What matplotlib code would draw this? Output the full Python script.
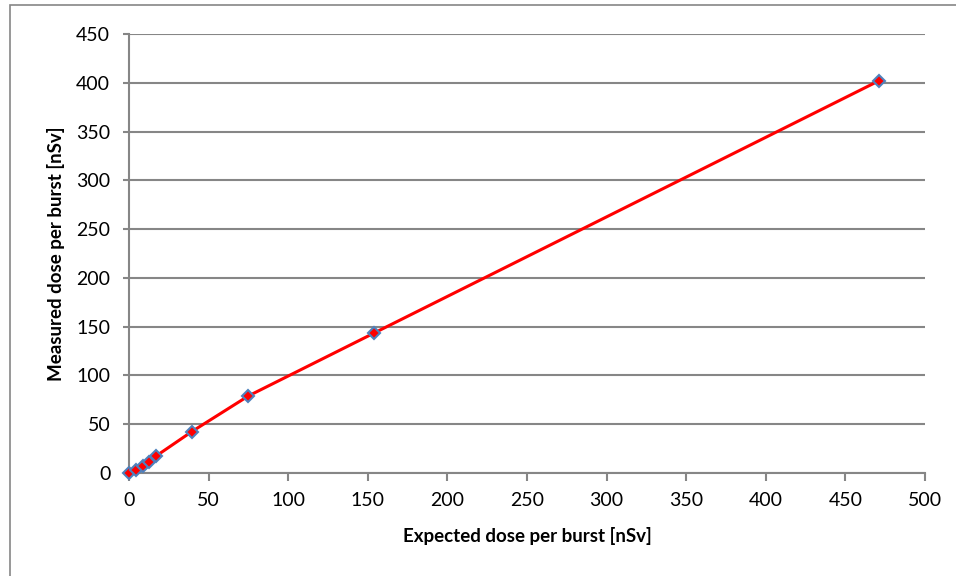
import matplotlib.pyplot as plt
from matplotlib.patches import Rectangle

# Expected vs measured dose per burst [nSv]
expected = [0, 4.4, 8.6, 12.7, 17, 39.5, 75, 154, 471]
measured = [0, 3, 7, 11.6, 17.4, 42.5, 79, 143.5, 402]

x_ticks = list(range(0, 501, 50))
y_ticks = list(range(0, 451, 50))

plt.rcParams["font.family"] = ["Lato", "DejaVu Sans"]

fig = plt.figure(figsize=(9.56, 5.76), dpi=100)
ax = fig.add_axes([129 / 956, 1 - 473 / 576, (925 - 129) / 956, (473 - 34) / 576])

grey = "#868686"
ax.plot(expected, measured, color="red", linewidth=2.2, marker="D",
        markersize=6, markerfacecolor="red", markeredgecolor="#4F81BD",
        markeredgewidth=1.5, zorder=3, clip_on=False)

ax.set_xlim(0, 500)
ax.set_ylim(0, 450)
ax.set_xticks(x_ticks)
ax.set_yticks(y_ticks)
ax.grid(axis="y", color=grey, linewidth=1.5)
ax.set_axisbelow(True)

for side in ["top", "right"]:
    ax.spines[side].set_visible(False)
for side in ["left", "bottom"]:
    ax.spines[side].set_color(grey)
    ax.spines[side].set_linewidth(1.5)

ax.tick_params(axis="both", colors=grey, width=1.5, labelsize=14,
               labelcolor="black")
ax.tick_params(axis="x", length=5.5, pad=8)
ax.tick_params(axis="y", length=4.5, pad=9)

ax.set_xlabel("Expected dose per burst [nSv]", fontsize=13.5, fontweight="bold",
              labelpad=13)
ax.set_ylabel("Measured dose per burst [nSv]", fontsize=13.5, fontweight="bold",
              labelpad=8)

# chart-area border (only top and left visible in the crop)
fig.patches.append(Rectangle((10 / 956, -0.1), 1.2, 1 - 5 / 576 + 0.1,
                             transform=fig.transFigure, fill=False,
                             edgecolor=grey, linewidth=1.2))

fig.savefig("out.png", dpi=100)
